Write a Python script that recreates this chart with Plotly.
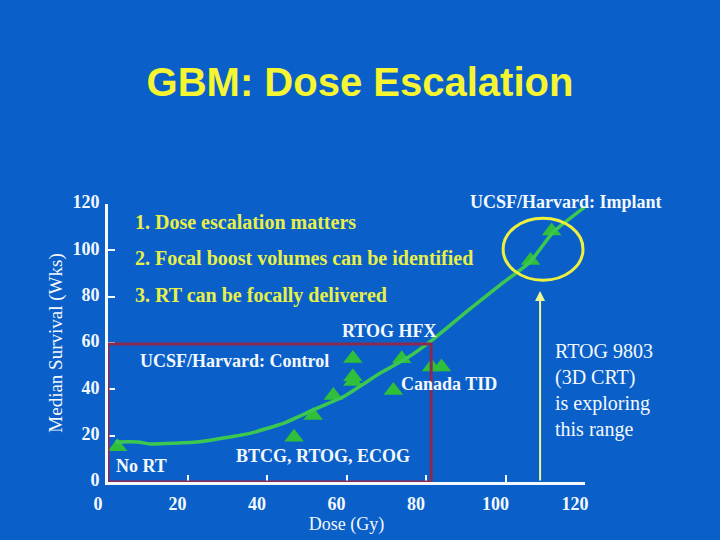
import plotly.graph_objects as go

# ---- data ----
title_text = "GBM: Dose Escalation"

curve_dose = [1.8, 7.5, 10.6, 23.1, 35.7, 44.1, 51.6, 59.2, 68.4, 75.1, 81.8, 90.2, 98.6, 106.2, 112.0, 120.0]
curve_surv = [17.3, 17.3, 16.4, 17.4, 21.0, 25.3, 31.1, 36.8, 46.9, 53.4, 61.6, 73.5, 85.0, 95.0, 107.9, 118.8]

trial_dose = [2.4, 46.8, 51.6, 56.7, 61.6, 61.6, 61.6, 71.8, 73.9, 81.4, 83.9, 106.3, 111.6]
trial_surv = [15.2, 19.3, 28.7, 37.3, 43.4, 45.4, 53.3, 39.5, 53.2, 49.6, 49.6, 95.6, 108.3]

x_ticks = [0, 20, 40, 60, 80, 100, 120]
y_ticks = [0, 20, 40, 60, 80, 100, 120]
x_range = [0, 120]
y_range = [0, 120]

notes = ["1. Dose escalation matters",
         "2. Focal boost volumes can be identified",
         "3. RT can be focally delivered"]
notes_x = [6.3, 6.3, 6.3]
notes_y = [112.2, 96.7, 80.7]

labels = ["UCSF/Harvard: Implant", "RTOG HFX", "UCSF/Harvard: Control",
          "Canada TID", "BTCG, RTOG, ECOG", "No RT"]
labels_x = [115.1, 70.8, 31.7, 85.9, 54.1, 8.55]
labels_y = [120.9, 65.2, 52.2, 42.3, 11.2, 7.0]

side_note = "RTOG 9803<br>(3D CRT)<br>is exploring<br>this range"
side_note_x = 112.0
side_note_y = 39.7

# highlighted regions
box_dose = [0, 81.3]
box_surv = [0, 59.6]
circle_dose = [99.4, 119.5]
circle_surv = [87.1, 113.9]
arrow_dose = 108.7
arrow_surv = [0, 82.4]

# ---- styling ----
BG = "#0a60c8"
WHITE = "#f4f8ff"
YELLOW = "#f5f532"
NOTE_YELLOW = "#e8f048"
GREEN_LINE = "#3cc850"
GREEN_MARK = "#2fbf3a"
MAROON = "#8a2a50"
SERIF = "Liberation Serif, Times New Roman, serif"


def to_paper(v, rng):
    return (v - rng[0]) / (rng[1] - rng[0])


fig = go.Figure()

fig.add_trace(go.Scatter(
    x=trial_dose, y=trial_surv, mode="markers",
    marker=dict(symbol="triangle-up", size=17, color=GREEN_MARK, line=dict(width=0)),
    showlegend=False, hoverinfo="skip"))

fig.add_trace(go.Scatter(
    x=curve_dose, y=curve_surv, mode="lines",
    line=dict(color=GREEN_LINE, width=3.5, shape="spline", smoothing=0.4),
    showlegend=False, hoverinfo="skip"))

annotations = []
for t, x, y in zip(notes, notes_x, notes_y):
    annotations.append(dict(x=x, y=y, xref="x", yref="y", text=t, showarrow=False,
                            xanchor="left", yanchor="middle",
                            font=dict(family=SERIF, size=20, color=NOTE_YELLOW, weight="bold")))
for t, x, y in zip(labels, labels_x, labels_y):
    # paper coordinates so labels just outside the axis range stay visible
    annotations.append(dict(x=to_paper(x, x_range), y=to_paper(y, y_range),
                            xref="paper", yref="paper", text=t, showarrow=False,
                            xanchor="center", yanchor="middle",
                            font=dict(family=SERIF, size=18, color=WHITE, weight="bold")))
annotations.append(dict(x=side_note_x, y=side_note_y, xref="x", yref="y", text=side_note,
                        showarrow=False, xanchor="left", yanchor="middle", align="left",
                        font=dict(family=SERIF, size=20, color=WHITE)))
annotations.append(dict(x=arrow_dose, y=arrow_surv[1], ax=arrow_dose, ay=arrow_surv[0],
                        xref="x", yref="y", axref="x", ayref="y", text="",
                        showarrow=True, arrowhead=2, arrowsize=1, arrowwidth=2,
                        arrowcolor="#eef890"))

shapes = [
    dict(type="rect", xref="x", yref="y", x0=box_dose[0], x1=box_dose[1],
         y0=box_surv[0], y1=box_surv[1], line=dict(color=MAROON, width=3), layer="above"),
    dict(type="circle", xref="x", yref="y", x0=circle_dose[0], x1=circle_dose[1],
         y0=circle_surv[0], y1=circle_surv[1], line=dict(color="#eef040", width=3), layer="above"),
]

fig.update_layout(
    width=720, height=540,
    paper_bgcolor=BG, plot_bgcolor=BG,
    margin=dict(l=108, r=135, t=204, b=58),
    title=dict(text=title_text, x=0.5, xanchor="center", y=1 - 82 / 540, yanchor="middle",
               yref="container",
               font=dict(family="Liberation Sans, Arial, sans-serif", size=40,
                         color=YELLOW, weight="bold")),
    annotations=annotations,
    shapes=shapes,
    showlegend=False,
)

fig.update_xaxes(
    range=x_range, tickvals=x_ticks, ticktext=[str(v) for v in x_ticks],
    showgrid=False, zeroline=False, showline=True, linecolor=WHITE, linewidth=3,
    ticks="inside", ticklen=7, tickwidth=2, tickcolor=WHITE,
    ticklabelshift=-10, ticklabelstandoff=3,
    tickfont=dict(family=SERIF, size=18, color=WHITE, weight="bold"),
    title=dict(text="Dose (Gy)", standoff=0,
               font=dict(family=SERIF, size=18, color=WHITE)),
)
fig.update_yaxes(
    range=y_range, tickvals=y_ticks, ticktext=[str(v) for v in y_ticks],
    showgrid=False, zeroline=False, showline=True, linecolor=WHITE, linewidth=3,
    ticks="inside", ticklen=7, tickwidth=2, tickcolor=WHITE,
    ticklabelshift=-2, ticklabelstandoff=2,
    tickfont=dict(family=SERIF, size=18, color=WHITE, weight="bold"),
    title=dict(text="Median Survival (Wks)", standoff=5,
               font=dict(family=SERIF, size=19, color=WHITE)),
)

fig.write_html("out.html", config={"displayModeBar": False},
               post_script="document.body.style.margin='0';document.body.style.background='%s';" % BG)
